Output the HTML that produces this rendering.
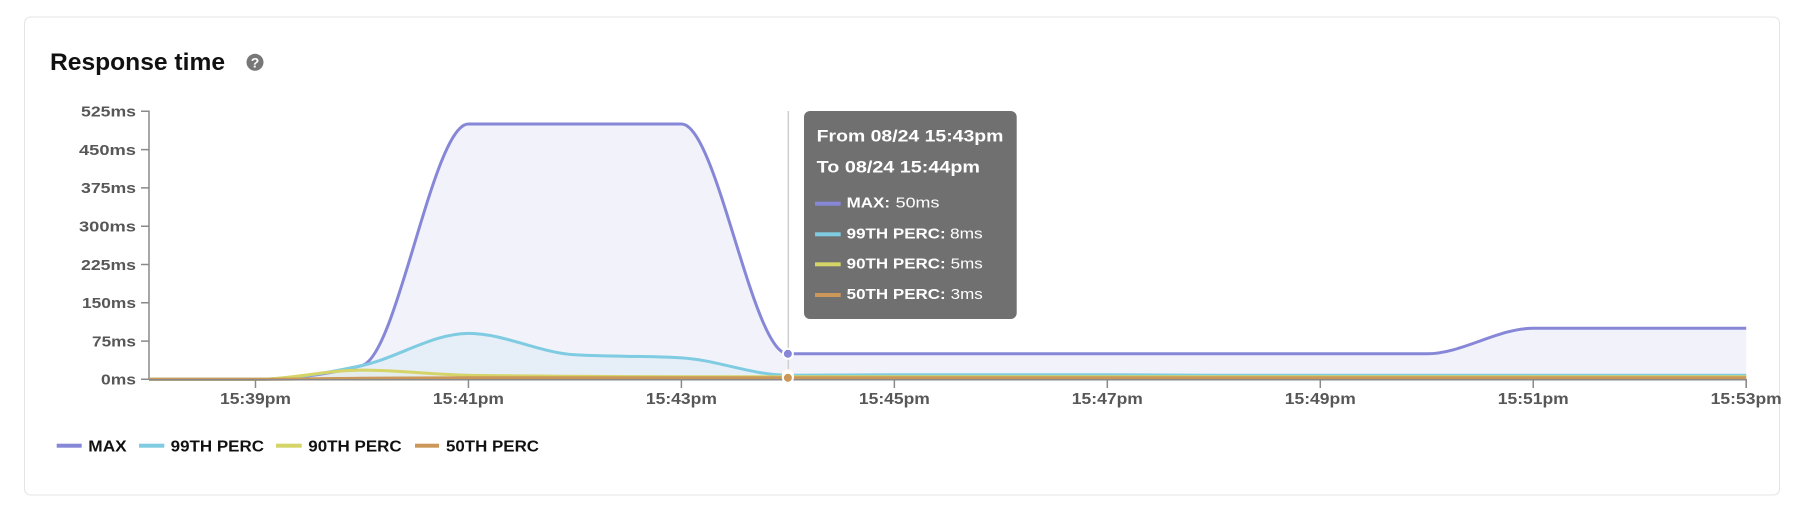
<!DOCTYPE html>
<html>
<head>
<meta charset="utf-8">
<style>
  html, body { margin: 0; padding: 0; background: #ffffff; }
  body { width: 1802px; height: 510px; overflow: hidden; }
  svg { display: block; }
  text { font-family: "Liberation Sans", "DejaVu Sans", sans-serif; }
</style>
</head>
<body>
<svg id="chart" width="1802" height="510" viewBox="0 0 1802 510" xmlns="http://www.w3.org/2000/svg">
  <!-- card -->
  <rect x="24.5" y="17" width="1755" height="478" rx="6" ry="6" fill="#ffffff" stroke="#e4e4e4" stroke-width="1"/>

  <!-- title -->
  <text x="50" y="70" font-size="24" font-weight="bold" fill="#111111" textLength="175" lengthAdjust="spacingAndGlyphs">Response time</text>
  <circle cx="255" cy="62.3" r="8.5" fill="#777777"/>
  <text x="255" y="67.3" font-size="14" font-weight="bold" fill="#ffffff" text-anchor="middle">?</text>

  <!-- y axis labels -->
  <g font-size="15" font-weight="bold" fill="#575757" text-anchor="end">
    <text x="136" y="116.6" textLength="55" lengthAdjust="spacingAndGlyphs">525ms</text>
    <text x="136" y="154.9" textLength="57" lengthAdjust="spacingAndGlyphs">450ms</text>
    <text x="136" y="193.2" textLength="55" lengthAdjust="spacingAndGlyphs">375ms</text>
    <text x="136" y="231.5" textLength="57" lengthAdjust="spacingAndGlyphs">300ms</text>
    <text x="136" y="269.8" textLength="55" lengthAdjust="spacingAndGlyphs">225ms</text>
    <text x="136" y="308.1" textLength="54" lengthAdjust="spacingAndGlyphs">150ms</text>
    <text x="136" y="346.4" textLength="44" lengthAdjust="spacingAndGlyphs">75ms</text>
    <text x="136" y="384.7" textLength="35" lengthAdjust="spacingAndGlyphs">0ms</text>
  </g>

  <!-- y axis domain + ticks -->
  <g stroke="#8a8a8a" stroke-width="1.5" fill="none">
    <path d="M141,111.3 H149 V379.3 H141"/>
    <path d="M141,149.6 H149 M141,187.9 H149 M141,226.2 H149 M141,264.5 H149 M141,302.8 H149 M141,341.1 H149"/>
  </g>

  <!-- series drawn by script -->
  <g id="series"></g>

  <!-- x axis -->
  <g id="xaxis" stroke="#8a8a8a" stroke-width="1.5" fill="none"></g>
  <g id="xlabels" font-size="16" font-weight="bold" fill="#575757" text-anchor="middle"></g>

  <!-- hover line + dots -->
  <line x1="788.3" y1="111" x2="788.3" y2="380" stroke="#cfcfcf" stroke-width="1.5"/>
  <g id="dots"></g>

  <!-- tooltip -->
  <rect x="804" y="111" width="212.7" height="208" rx="6" ry="6" fill="#707070"/>
  <g fill="#ffffff" font-weight="bold">
    <text x="816.7" y="141.7" font-size="17" textLength="186.7" lengthAdjust="spacingAndGlyphs">From 08/24 15:43pm</text>
    <text x="816.7" y="172.7" font-size="17" textLength="163.3" lengthAdjust="spacingAndGlyphs">To 08/24 15:44pm</text>
  </g>
  <rect x="815" y="201.7" width="25.7" height="4" fill="#8787d8"/>
  <rect x="815" y="232.3" width="25.7" height="4" fill="#7fcbe1"/>
  <rect x="815" y="262.3" width="25.7" height="4" fill="#d4d468"/>
  <rect x="815" y="293" width="25.7" height="4" fill="#cc985a"/>
  <g fill="#ffffff" font-size="15">
    <text x="846.7" y="207.3" font-weight="bold" textLength="43.3" lengthAdjust="spacingAndGlyphs">MAX:</text>
    <text x="895.7" y="207.3" textLength="43.7" lengthAdjust="spacingAndGlyphs">50ms</text>
    <text x="846.7" y="238.3" font-weight="bold" textLength="99" lengthAdjust="spacingAndGlyphs">99TH PERC:</text>
    <text x="950" y="238.3" textLength="32.7" lengthAdjust="spacingAndGlyphs">8ms</text>
    <text x="846.7" y="268.3" font-weight="bold" textLength="99" lengthAdjust="spacingAndGlyphs">90TH PERC:</text>
    <text x="950.7" y="268.3" textLength="32" lengthAdjust="spacingAndGlyphs">5ms</text>
    <text x="846.7" y="299" font-weight="bold" textLength="99" lengthAdjust="spacingAndGlyphs">50TH PERC:</text>
    <text x="950.7" y="299" textLength="32" lengthAdjust="spacingAndGlyphs">3ms</text>
  </g>

  <!-- bottom legend -->
  <rect x="56.7" y="443.7" width="25" height="4" fill="#8787d8"/>
  <rect x="139" y="443.7" width="25.3" height="4" fill="#7fcbe1"/>
  <rect x="276" y="443.7" width="25.7" height="4" fill="#d4d468"/>
  <rect x="415" y="443.7" width="24" height="4" fill="#cc985a"/>
  <g font-size="16" font-weight="bold" fill="#111111">
    <text x="88.3" y="451.7" textLength="38.4" lengthAdjust="spacingAndGlyphs">MAX</text>
    <text x="170.7" y="451.7" textLength="93.3" lengthAdjust="spacingAndGlyphs">99TH PERC</text>
    <text x="308.3" y="451.7" textLength="93.4" lengthAdjust="spacingAndGlyphs">90TH PERC</text>
    <text x="446" y="451.7" textLength="93" lengthAdjust="spacingAndGlyphs">50TH PERC</text>
  </g>
</svg>

<script>
(function(){
  var NS = "http://www.w3.org/2000/svg";
  var X0 = 149, DX = 106.48, Y0 = 379.3, K = 268/525;
  function el(tag, attrs, parent){
    var e = document.createElementNS(NS, tag);
    for (var k in attrs) e.setAttribute(k, attrs[k]);
    if (parent) parent.appendChild(e);
    return e;
  }
  function sign(x){ return x < 0 ? -1 : 1; }
  function monotonePath(vals){
    var n = vals.length;
    var xs = [], ys = [];
    for (var i = 0; i < n; i++){ xs.push(X0 + i*DX); ys.push(Y0 - vals[i]*K); }
    var t = new Array(n);
    for (var i = 1; i < n-1; i++){
      var h0 = xs[i]-xs[i-1], h1 = xs[i+1]-xs[i];
      var s0 = (ys[i]-ys[i-1])/h0, s1 = (ys[i+1]-ys[i])/h1;
      var p = (s0*h1 + s1*h0)/(h0+h1);
      t[i] = (sign(s0)+sign(s1)) * Math.min(Math.abs(s0), Math.abs(s1), 0.5*Math.abs(p)) || 0;
    }
    t[0] = (3*(ys[1]-ys[0])/(xs[1]-xs[0]) - t[1]) / 2;
    t[n-1] = (3*(ys[n-1]-ys[n-2])/(xs[n-1]-xs[n-2]) - t[n-2]) / 2;
    var d = "M" + xs[0].toFixed(2) + "," + ys[0].toFixed(2);
    for (var i = 0; i < n-1; i++){
      var dx = (xs[i+1]-xs[i])/3;
      d += "C" + (xs[i]+dx).toFixed(2) + "," + (ys[i]+dx*t[i]).toFixed(2) + "," +
           (xs[i+1]-dx).toFixed(2) + "," + (ys[i+1]-dx*t[i+1]).toFixed(2) + "," +
           xs[i+1].toFixed(2) + "," + ys[i+1].toFixed(2);
    }
    return {line: d, area: d + "L" + xs[n-1].toFixed(2) + "," + Y0 + "L" + xs[0].toFixed(2) + "," + Y0 + "Z"};
  }
  var series = [
    {c:"#8787d8", fo:0.11, v:[0,0,27,500,500,500,50,50,50,50,50,50,50,100,100,100]},
    {c:"#7fcbe1", fo:0.10, v:[0,0,27,90,48,42,8,9,9,9,8,8,8,8,8,8]},
    {c:"#d4d468", fo:0.08, v:[0,0,18,8,6,5,5,5,5,5,5,5,5,5,5,5]},
    {c:"#cc985a", fo:0.08, v:[0,0,2,3,3,3,3,3,3,3,3,3,3,3,3,3]}
  ];
  var g = document.getElementById("series");
  var paths = series.map(function(s){ return monotonePath(s.v); });
  series.forEach(function(s, i){
    el("path", {d: paths[i].area, fill: s.c, "fill-opacity": s.fo, stroke: "none"}, g);
  });
  series.forEach(function(s, i){
    el("path", {d: paths[i].line, fill: "none", stroke: s.c, "stroke-width": 3, "stroke-linejoin":"round"}, g);
  });

  // x axis
  var xa = document.getElementById("xaxis");
  var xEnd = X0 + 15*DX;
  el("path", {d: "M" + X0 + ",379.8 H" + xEnd.toFixed(2) + " V388"}, xa);
  var xl = document.getElementById("xlabels");
  var labels = ["15:39pm","15:41pm","15:43pm","15:45pm","15:47pm","15:49pm","15:51pm","15:53pm"];
  for (var j = 0; j < 8; j++){
    var xx = X0 + (1 + 2*j)*DX;
    el("path", {d: "M" + xx.toFixed(2) + ",379.8 V388"}, xa);
    var tx = el("text", {x: xx.toFixed(2), y: 404, textLength: 71, lengthAdjust: "spacingAndGlyphs"}, xl);
    tx.textContent = labels[j];
  }

  // dots at 15:44
  var dg = document.getElementById("dots");
  var xd = X0 + 6*DX;
  [[50,"#8787d8"],[8,"#7fcbe1"],[5,"#d4d468"],[3,"#cc985a"]].forEach(function(p){
    el("circle", {cx: xd.toFixed(2), cy: (Y0 - p[0]*K).toFixed(2), r: 5, fill: p[1], stroke: "#ffffff", "stroke-width": 2}, dg);
  });
})();
</script>
</body>
</html>
